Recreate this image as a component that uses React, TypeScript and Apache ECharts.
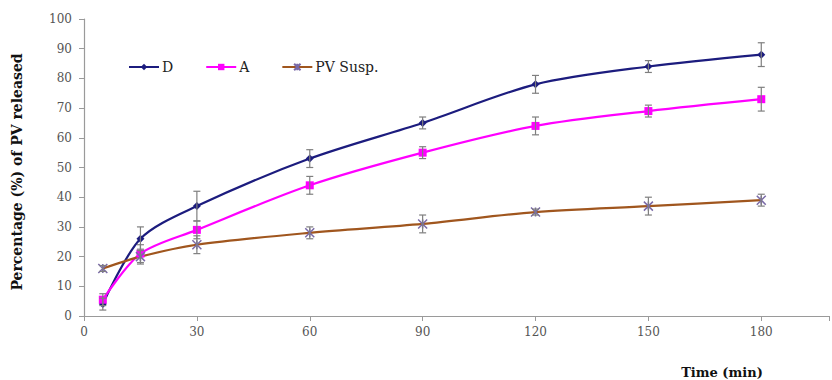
import React, { useEffect, useRef } from "react";
import * as echarts from "echarts";

const times = [5, 15, 30, 60, 90, 120, 150, 180];
const dValues = [4, 26, 37, 53, 65, 78, 84, 88];
const dErrors = [2, 4, 5, 3, 2, 3, 2, 4];
const aValues = [5.5, 21, 29, 44, 55, 64, 69, 73];
const aErrors = [2, 3, 3, 3, 2, 3, 2, 4];
const pvValues = [16, 20, 24, 28, 31, 35, 37, 39];
const pvErrors = [1, 2.5, 3, 2, 3, 1, 3, 2];
const xTicks = [0, 30, 60, 90, 120, 150, 180];
const seriesNames = ["D", "A", "PV Susp."];

const FONT = "DejaVu Serif";

function pairs(vals: number[]) {
  return times.map((t, i) => [t, vals[i]]);
}
function errData(vals: number[], errs: number[]) {
  return times.map((t, i) => [t, vals[i] - errs[i], vals[i] + errs[i]]);
}

function errorSeries(vals: number[], errs: number[]) {
  return {
    type: "custom",
    coordinateSystem: "cartesian2d",
    z: 5,
    silent: true,
    encode: { x: 0, y: [1, 2] },
    data: errData(vals, errs),
    renderItem: (params: any, api: any) => {
      const x = api.value(0);
      const lo = api.coord([x, api.value(1)]);
      const hi = api.coord([x, api.value(2)]);
      const w = 3.5;
      const style = { stroke: "#7f7f7f", lineWidth: 1.2 };
      return {
        type: "group",
        children: [
          { type: "line", shape: { x1: hi[0], y1: hi[1], x2: lo[0], y2: lo[1] }, style },
          { type: "line", shape: { x1: hi[0] - w, y1: hi[1], x2: hi[0] + w, y2: hi[1] }, style },
          { type: "line", shape: { x1: lo[0] - w, y1: lo[1], x2: lo[0] + w, y2: lo[1] }, style },
        ],
      };
    },
  };
}

export default function App() {
  const ref = useRef<HTMLDivElement>(null);
  useEffect(() => {
    document.body.style.margin = "0";
    const chart = echarts.init(ref.current!, null, { renderer: "svg" });
    const axisLabelStyle = { fontFamily: FONT, fontSize: 12, color: "#555" };
    chart.setOption({
      animation: false,
      backgroundColor: "#fff",
      grid: { left: 84, top: 19, right: 0, bottom: 64 },
      legend: {
        data: seriesNames,
        left: 128,
        top: 60,
        padding: 0,
        itemWidth: 30,
        itemHeight: 8,
        itemGap: 32,
        textStyle: { fontFamily: FONT, fontSize: 14, color: "#222", padding: [0, 0, 0, -2] },
      },
      xAxis: {
        type: "value",
        min: 0,
        max: 198,
        interval: 30,
        splitLine: { show: false },
        axisLine: { lineStyle: { color: "#9a9a9a", width: 1.2 } },
        axisTick: { show: true, inside: false, length: 5, lineStyle: { color: "#9a9a9a" } },
        axisLabel: {
          ...axisLabelStyle,
          margin: 10,
          formatter: (v: number) => (xTicks.includes(v) ? String(v) : ""),
        },
      },
      yAxis: {
        type: "value",
        min: 0,
        max: 100,
        interval: 10,
        splitLine: { show: false },
        axisLine: { show: true, lineStyle: { color: "#9a9a9a", width: 1.2 } },
        axisTick: { show: true, length: 5, lineStyle: { color: "#9a9a9a" } },
        axisLabel: { ...axisLabelStyle, margin: 12 },
      },
      graphic: [
        {
          type: "text",
          rotation: Math.PI / 2,
          x: 17,
          y: 172,
          style: {
            text: "Percentage (%) of PV released",
            fontFamily: FONT,
            fontSize: 14,
            fontWeight: "bold",
            fill: "#111",
            align: "center",
            verticalAlign: "middle",
          },
        },
        {
          type: "text",
          x: 722,
          y: 372,
          style: {
            text: "Time (min)",
            fontFamily: FONT,
            fontSize: 13,
            fontWeight: "bold",
            fill: "#111",
            align: "center",
            verticalAlign: "middle",
          },
        },
      ],
      series: [
        {
          name: "D",
          type: "line",
          smooth: 0.3,
          data: pairs(dValues),
          symbol: "diamond",
          symbolSize: 8,
          lineStyle: { color: "#1c1c7e", width: 2.2 },
          itemStyle: { color: "#1c1c7e" },
          z: 3,
        },
        {
          name: "A",
          type: "line",
          smooth: 0.3,
          data: pairs(aValues),
          symbol: "rect",
          symbolSize: 8,
          lineStyle: { color: "#ff00ff", width: 2.2 },
          itemStyle: { color: "#ff00ff" },
          z: 3,
        },
        {
          name: "PV Susp.",
          type: "line",
          smooth: 0.3,
          data: pairs(pvValues),
          symbol: "path://M0,0L10,10M10,0L0,10M5,0L5,10",
          symbolSize: 9,
          lineStyle: { color: "#a0561e", width: 2.2 },
          itemStyle: { color: "none", borderColor: "#7a6aa8", borderWidth: 1.5 },
          z: 3,
        },
        errorSeries(dValues, dErrors),
        errorSeries(aValues, aErrors),
        errorSeries(pvValues, pvErrors),
      ],
    });
    return () => chart.dispose();
  }, []);
  return <div ref={ref} style={{ width: 832, height: 380 }} />;
}
